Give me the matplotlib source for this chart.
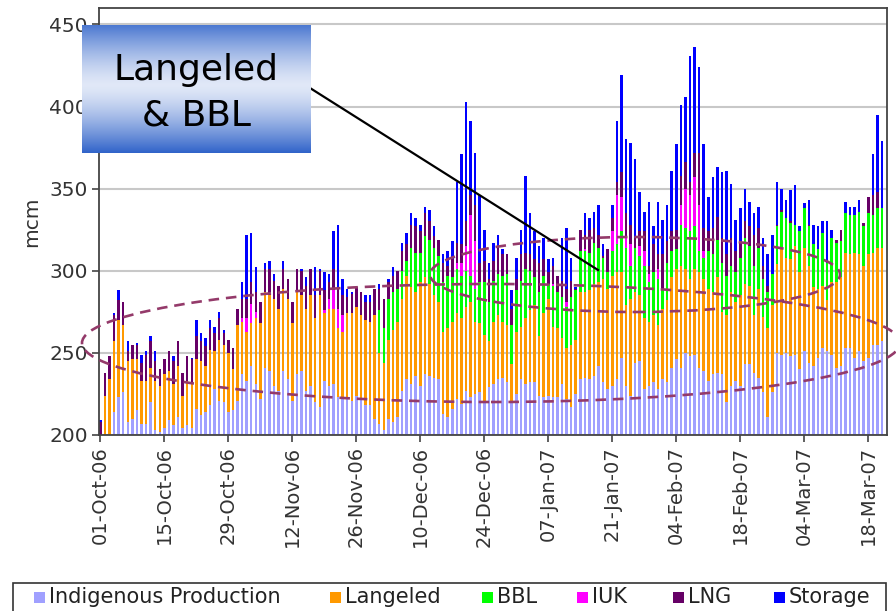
import numpy as np
import matplotlib
matplotlib.use("Agg")
import matplotlib.pyplot as plt
from matplotlib.patches import Ellipse, Rectangle
from matplotlib.lines import Line2D

# ---------------- data (mcm per day, 01-Oct-06 .. 21-Mar-07) ----------------
tick_labels = ["01-Oct-06", "15-Oct-06", "29-Oct-06", "12-Nov-06", "26-Nov-06",
               "10-Dec-06", "24-Dec-06", "07-Jan-07", "21-Jan-07", "04-Feb-07",
               "18-Feb-07", "04-Mar-07", "18-Mar-07"]

indigenous = [200, 200, 200, 214, 223, 226, 208, 210, 215, 207, 207, 220, 203, 202, 204, 209, 206, 211, 204, 206,
              204, 216, 212, 214, 218, 228, 221, 220, 214, 215, 221, 237, 233, 242, 231, 222, 241, 239, 230, 227,
              239, 234, 221, 237, 239, 227, 230, 220, 217, 233, 230, 231, 223, 222, 222, 221, 224, 222, 218, 218,
              210, 207, 203, 210, 208, 211, 227, 234, 231, 236, 230, 237, 236, 235, 234, 213, 211, 216, 222, 219,
              227, 223, 225, 226, 220, 229, 231, 234, 235, 232, 220, 225, 234, 231, 232, 232, 224, 223, 224, 223,
              223, 231, 222, 217, 225, 234, 235, 234, 236, 242, 232, 228, 230, 234, 247, 230, 224, 244, 245, 228,
              230, 232, 228, 234, 232, 241, 246, 241, 250, 248, 249, 241, 239, 233, 237, 238, 237, 220, 230, 233,
              230, 243, 243, 238, 235, 226, 211, 226, 250, 249, 250, 248, 249, 240, 251, 244, 242, 247, 253, 251,
              249, 241, 242, 253, 253, 247, 251, 245, 247, 255, 255, 257]
langeled = [0, 24, 34, 43, 47, 41, 37, 36, 31, 26, 26, 21, 30, 28, 33, 30, 25, 31, 20, 27,
            28, 30, 33, 28, 34, 23, 37, 35, 36, 25, 46, 32, 30, 26, 40, 46, 46, 46, 53, 50,
            50, 49, 47, 51, 46, 50, 55, 51, 68, 41, 47, 46, 42, 41, 52, 53, 54, 51, 52, 51,
            63, 43, 41, 48, 56, 58, 56, 63, 59, 51, 63, 59, 56, 50, 47, 50, 54, 53, 52, 52,
            51, 58, 44, 42, 41, 28, 38, 39, 34, 35, 23, 38, 32, 40, 44, 47, 36, 51, 59, 43,
            42, 28, 31, 38, 33, 53, 52, 54, 56, 51, 63, 61, 67, 65, 52, 49, 59, 43, 40, 43,
            39, 41, 39, 43, 50, 55, 55, 62, 51, 47, 52, 58, 56, 56, 50, 58, 38, 53, 57, 48,
            55, 49, 48, 35, 54, 46, 54, 53, 54, 64, 58, 59, 66, 59, 63, 59, 48, 42, 38, 31,
            44, 52, 54, 58, 57, 64, 59, 58, 63, 56, 59, 57]
bbl = [0] * 61 + \
      [26, 21, 25, 23, 20, 17, 9, 24, 24, 18, 25, 27, 29, 28, 30, 32, 27, 27, 26, 22,
       16, 20, 25, 32, 24, 25, 25, 28, 31, 24, 25, 28, 30, 24, 17, 27, 23, 9, 25, 22,
       25, 25, 29, 30, 25, 25, 23, 25, 21, 13, 10, 15, 17, 25, 35, 20, 27, 24, 32, 24,
       26, 28, 12, 23, 16, 12, 25, 25, 29, 26, 13, 13, 23, 23, 23, 30, 24, 16, 18, 23,
       28, 24, 30, 25, 23, 22, 19, 23, 23, 24, 22, 13, 25, 24, 24, 26, 24, 32, 23, 27,
       24, 22, 24, 24, 23, 26, 24, 25, 23, 24, 24]
iuk = [0] * 31 + [2, 8, 12, 4] + [0] * 14 + [2, 6, 11, 12, 10] + [0] * 24 + \
      [4, 8, 15, 37, 29] + [0] * 16 + [1, 0, 0, 3] + [0] * 3 + [1] + [0] * 5 + \
      [12, 30, 21, 6, 13, 0, 6, 9, 5, 0, 6, 0, 0, 0, 0, 12, 24, 22, 30, 28, 4] + [0] * 39
lng = [8, 14, 14, 16, 12, 14, 6, 9, 9, 11, 16, 16, 12, 10, 9, 12, 14, 15, 14, 15,
       14, 14, 12, 12, 13, 11, 13, 7, 8, 13, 10, 12, 12, 13, 12, 13, 14, 16, 11, 14,
       12, 12, 13, 13, 15, 14, 16, 14, 15, 12, 10, 13, 12, 12, 10, 12, 12, 14, 11, 12,
       16, 13, 18, 10, 10, 11, 12, 10, 14, 16, 13, 14, 11, 7, 10, 12, 6, 11, 12, 11,
       15, 12, 22, 12, 13, 14, 12, 16, 13, 12, 10, 7, 16, 10, 10, 11, 18, 10, 7, 11,
       10, 10, 8, 10, 1, 13, 9, 14, 9, 8, 1, 14, 8, 8, 15, 15, 12, 6, 9, 12,
       5, 17, 9, 21, 13, 12, 12, 18, 16, 8, 15, 32, 14, 12, 16, 14, 15, 13, 17, 13,
       10, 10, 12, 19, 12, 8, 4, 0, 1, 1, 0, 1, 0, 0, 0, 1, 0, 0, 0, 0,
       0, 2, 7, 0, 0, 0, 0, 2, 10, 12, 10, 0]
storage = [1, 0, 0, 1, 6, 0, 6, 0, 1, 5, 2, 3, 6, 0, 0, 0, 3, 0, 0, 0,
           1, 10, 5, 5, 5, 4, 4, 2, 0, 0, 0, 10, 39, 30, 15, 0, 4, 5, 4, 0,
           5, 0, 0, 0, 1, 5, 0, 17, 1, 11, 5, 23, 39, 10, 5, 1, 0, 0, 4, 4,
           0, 3, 0, 2, 5, 0, 5, 7, 7, 5, 4, 4, 7, 6, 0, 5, 9, 11, 37, 55,
           73, 45, 32, 41, 19, 10, 11, 8, 3, 0, 11, 13, 15, 47, 25, 17, 10, 13, 8, 5,
           0, 26, 37, 14, 1, 0, 13, 7, 10, 18, 7, 0, 8, 37, 59, 45, 50, 48, 24, 12,
           39, 11, 32, 21, 22, 37, 52, 43, 40, 77, 64, 52, 51, 21, 31, 30, 40, 51, 33, 19,
           20, 20, 15, 13, 13, 17, 19, 24, 26, 13, 11, 19, 24, 3, 3, 15, 12, 14, 7, 25,
           5, 0, 0, 7, 5, 5, 7, 0, 0, 25, 47, 41]

series_names = ["Indigenous Production", "Langeled", "BBL", "IUK", "LNG", "Storage"]
series_values = [indigenous, langeled, bbl, iuk, lng, storage]
series_colors = ["#a0a0ff", "#ff9900", "#00ff00", "#ff00ff", "#660066", "#0000ff"]

# ---------------- figure ----------------
W, H = 896, 611
fig = plt.figure(figsize=(W / 100, H / 100), dpi=100)
fig.patch.set_facecolor("white")

def fx(px):
    return px / W

def fy(py):
    return 1 - py / H

ax = fig.add_axes([fx(99), fy(435), fx(887) - fx(99), fy(8) - fy(435)])
n = len(indigenous)
x = np.arange(n)
bottom = np.zeros(n)
for name, vals, col in zip(series_names, series_values, series_colors):
    v = np.asarray(vals, dtype=float)
    ax.bar(x, v, 0.55, bottom=bottom, color=col, linewidth=0, label=name, zorder=2)
    bottom += v

ax.set_ylim(200, 460)
ax.set_xlim(-0.3, 172.1)
ax.set_yticks([200, 250, 300, 350, 400, 450])
ax.set_xticks(np.arange(0, n, 14))
ax.set_xticklabels(tick_labels, rotation=90)
ax.yaxis.grid(True, color="#c8c8c8", linewidth=1.5, zorder=0)
ax.set_axisbelow(True)
for sp in ax.spines.values():
    sp.set_color("#444444")
    sp.set_linewidth(1.3)
ax.tick_params(axis="both", direction="out", length=5, width=1.2, color="#444444",
               labelsize=14, labelcolor="#333333")
ax.tick_params(axis="y", labelsize=14.5, pad=3)
ax.tick_params(axis="x", pad=3)

fig.text(fx(32), fy(222), "mcm", rotation=90, ha="center", va="center",
         fontsize=14.5, color="#333333")

# ---------------- annotations ----------------
dash_col = "#943a6a"
fig.add_artist(Ellipse((fx(491), fy(343)), fx(818), 118 / H, transform=fig.transFigure,
                       fill=False, ec=dash_col, lw=1.9, ls=(0, (4, 2.6)), zorder=5))
fig.add_artist(Ellipse((fx(635), fy(274.5)), fx(410), 75 / H, transform=fig.transFigure,
                       fill=False, ec=dash_col, lw=1.9, ls=(0, (4, 2.6)), zorder=5))

fig.add_artist(Line2D([fx(310), fx(598)], [fy(88), fy(270)], transform=fig.transFigure,
                      color="black", lw=1.6, zorder=6))

# gradient box
bax = fig.add_axes([fx(82), fy(153), fx(310) - fx(82), (153 - 25) / H], zorder=7)
t = np.linspace(0, 1, 256)[:, None]
d = np.clip(np.abs(t - 0.47) / 0.53, 0, 1) ** 1.4
dark = np.array([0.19, 0.39, 0.79])
light = np.array([0.88, 0.91, 0.97])
grad = light[None, None, :] * (1 - d[..., None]) + dark[None, None, :] * d[..., None]
grad = np.repeat(grad, 4, axis=1)
bax.imshow(grad, aspect="auto", extent=[0, 1, 0, 1], interpolation="bilinear")
bax.set_axis_off()
bax.text(0.5, 1 - (70 - 25) / 128, "Langeled", ha="center", va="center",
         fontsize=26, color="black", transform=bax.transAxes)
bax.text(0.5, 1 - (115 - 25) / 128, "& BBL", ha="center", va="center",
         fontsize=26, color="black", transform=bax.transAxes)

# ---------------- legend (bottom) ----------------
fig.add_artist(Rectangle((fx(13), -0.02), fx(886) - fx(13), (611 - 583) / H + 0.02,
                         transform=fig.transFigure, fill=False, ec="#333333", lw=1.2))
sq_left = [34, 330, 482, 577, 673, 774]
for name, col, sx in zip(series_names, series_colors, sq_left):
    fig.add_artist(Rectangle((fx(sx), fy(603)), fx(11), 11 / H, transform=fig.transFigure,
                             fc=col, ec="none"))
    fig.text(fx(sx + 15), fy(597), name, ha="left", va="center", fontsize=15, color="#222222")

fig.savefig("out.png", dpi=100)
